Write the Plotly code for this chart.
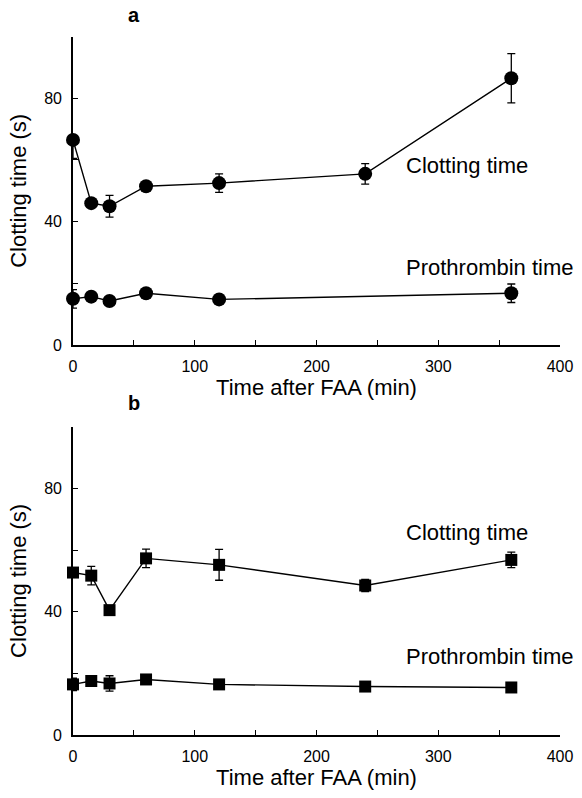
import plotly.graph_objects as go

# ---- data ----
time_min = [0, 15, 30, 60, 120, 240, 360]

# panel a
a_clot = [66.5, 46, 45, 51.5, 52.5, 55.5, 86.5]
a_clot_err_plus = [0, 1, 3.5, 1.5, 3, 3.3, 8]
a_clot_err_minus = [6, 1, 3.5, 1.5, 3, 3.3, 8]
a_pro_time = [0, 15, 30, 60, 120, 360]
a_pro = [15, 15.7, 14.3, 16.8, 14.8, 16.8]
a_pro_err = [3, 0.5, 0.5, 0.5, 0.5, 3]

# panel b
b_clot = [52.7, 51.7, 40.5, 57.3, 55.2, 48.5, 56.8]
b_clot_err = [0.5, 3, 1, 3, 5, 2, 2.5]
b_pro = [16.4, 17.5, 16.7, 18.0, 16.4, 15.7, 15.4]
b_pro_err = [2, 1, 2.5, 1, 0.5, 0.5, 0.5]

x_ticks = [0, 50, 100, 150, 200, 250, 300, 350, 400]
x_labels = ["0", "", "100", "", "200", "", "300", "", "400"]
y_ticks = [0, 20, 40, 60, 80, 100]
y_labels = ["0", "", "40", "", "80", ""]

FONT = "Liberation Sans, Arial, sans-serif"

fig = go.Figure()

def add_series(x, y, ep, em, xa, ya, symbol, size):
    fig.add_trace(go.Scatter(
        x=x, y=y, mode="lines+markers",
        line=dict(color="black", width=1.4),
        marker=dict(symbol=symbol, size=size, color="black"),
        error_y=dict(type="data", symmetric=False, array=ep, arrayminus=em,
                     color="black", thickness=1.3, width=4),
        xaxis=xa, yaxis=ya, showlegend=False, cliponaxis=False,
    ))

add_series(time_min, a_clot, a_clot_err_plus, a_clot_err_minus, "x", "y", "circle", 14)
add_series(a_pro_time, a_pro, a_pro_err, a_pro_err, "x", "y", "circle", 14)
add_series(time_min, b_clot, b_clot_err, b_clot_err, "x2", "y2", "square", 12)
add_series(time_min, b_pro, b_pro_err, b_pro_err, "x2", "y2", "square", 12)

H = 798
top_dom = [(H - 349) / H, (H - 37) / H]
bot_dom = [(H - 743.3) / H, (H - 431.7) / H]

xcommon = dict(range=[0, 400], tickvals=x_ticks, ticktext=x_labels,
               ticks="inside", ticklen=5, tickwidth=1.2, tickcolor="black",
               showline=True, linecolor="black", linewidth=1.6,
               showgrid=False, zeroline=False, ticklabelstandoff=6,
               tickfont=dict(family=FONT, size=16, color="black"),
               title=dict(text="Time after FAA (min)",
                          font=dict(family=FONT, size=22, color="black"),
                          standoff=3))
ycommon = dict(range=[0, 100], tickvals=y_ticks, ticktext=y_labels,
               ticks="inside", ticklen=5, tickwidth=1.2, tickcolor="black",
               showline=True, linecolor="black", linewidth=1.6,
               showgrid=False, zeroline=False, ticklabelstandoff=6,
               tickfont=dict(family=FONT, size=16, color="black"),
               title=dict(text="Clotting time (s)",
                          font=dict(family=FONT, size=22, color="black"),
                          standoff=11))

fig.update_layout(
    width=582, height=798,
    margin=dict(l=73, r=22, t=0, b=0),
    paper_bgcolor="white", plot_bgcolor="white",
    xaxis=dict(domain=[0, 1], anchor="y", **xcommon),
    yaxis=dict(domain=top_dom, anchor="x", **ycommon),
    xaxis2=dict(domain=[0, 1], anchor="y2", **xcommon),
    yaxis2=dict(domain=bot_dom, anchor="x2", **ycommon),
)

ann_font = dict(family=FONT, size=22, color="black")
annots = [
    dict(x=272, y=58.3, xref="x", yref="y", text="Clotting time", xanchor="left"),
    dict(x=272, y=25.3, xref="x", yref="y", text="Prothrombin time", xanchor="left"),
    dict(x=272, y=65.8, xref="x2", yref="y2", text="Clotting time", xanchor="left"),
    dict(x=272, y=25.6, xref="x2", yref="y2", text="Prothrombin time", xanchor="left"),
]
for a in annots:
    fig.add_annotation(showarrow=False, font=ann_font, yanchor="middle", **a)

fig.add_annotation(x=73 / 582, y=(H - 15) / H, xref="paper", yref="paper",
                   text="<b>a</b>", showarrow=False, xanchor="center", yanchor="middle",
                   font=dict(family=FONT, size=20, color="black"))
fig.add_annotation(x=73 / 582, y=(H - 408) / H, xref="paper", yref="paper",
                   text="<b>b</b>", showarrow=False, xanchor="center", yanchor="middle",
                   font=dict(family=FONT, size=20, color="black"))

fig.write_html("out.html")
